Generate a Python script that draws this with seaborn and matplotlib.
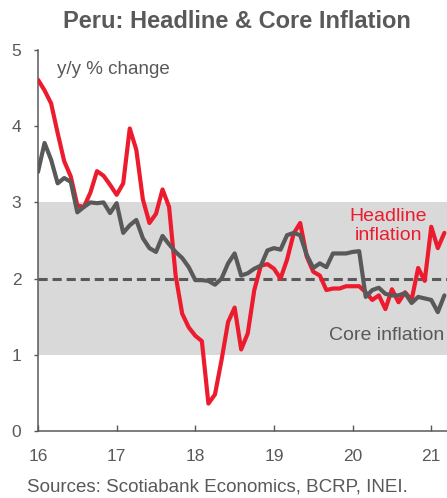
import matplotlib
matplotlib.use("Agg")
import matplotlib.pyplot as plt
import seaborn as sns
import numpy as np
import pandas as pd

# monthly y/y % change, Jan 2016 - Mar 2021
headline = [
    4.61, 4.47, 4.30, 3.91, 3.54, 3.34, 2.96, 2.94, 3.13, 3.41, 3.35, 3.23,
    3.10, 3.25, 3.97, 3.69, 3.04, 2.73, 2.85, 3.17, 2.94, 2.04, 1.54, 1.36,
    1.25, 1.18, 0.36, 0.48, 0.93, 1.43, 1.62, 1.07, 1.28, 1.85, 2.17, 2.19,
    2.13, 2.00, 2.25, 2.59, 2.73, 2.29, 2.09, 2.04, 1.85, 1.87, 1.87, 1.90,
    1.90, 1.90, 1.82, 1.72, 1.78, 1.60, 1.86, 1.69, 1.82, 1.72, 2.14, 1.97,
    2.68, 2.40, 2.60,
]
core = [
    3.40, 3.78, 3.56, 3.25, 3.32, 3.27, 2.87, 2.94, 3.00, 2.99, 3.00, 2.86,
    2.99, 2.60, 2.70, 2.77, 2.53, 2.40, 2.35, 2.56, 2.45, 2.35, 2.27, 2.15,
    1.98, 1.98, 1.97, 1.92, 2.00, 2.20, 2.33, 2.04, 2.07, 2.13, 2.17, 2.37,
    2.40, 2.38, 2.57, 2.60, 2.57, 2.31, 2.14, 2.20, 2.15, 2.33, 2.33, 2.33,
    2.35, 2.36, 1.76, 1.85, 1.88, 1.80, 1.78, 1.78, 1.81, 1.68, 1.76, 1.74,
    1.72, 1.56, 1.78,
]
year_ticks = [16, 17, 18, 19, 20, 21]
target_band = (1, 3)
target_mid = 2

RED = "#ec1c2e"
GREY = "#595959"

t = 16 + np.arange(len(headline)) / 12
df = pd.DataFrame({"t": t, "headline": headline, "core": core})

sns.set_style("white")
plt.rcParams["font.family"] = ["Liberation Sans", "DejaVu Sans"]

fig = plt.figure(figsize=(4.47, 4.98), dpi=100)
ax = fig.add_axes([0.085, 0.1345, 0.915, 0.7651])

ax.axhspan(*target_band, color="#d9d9d9", lw=0, zorder=0)
ax.axhline(target_mid, color=GREY, lw=2.2, ls=(0, (3, 1.6)), zorder=1)

sns.lineplot(data=df, x="t", y="headline", color=RED, lw=3, ax=ax, zorder=3)
sns.lineplot(data=df, x="t", y="core", color=GREY, lw=3, ax=ax, zorder=4)

ax.set_xlim(16, 21.2)
ax.set_ylim(0, 5)
ax.set_xticks(year_ticks)
ax.set_xticklabels([str(y) for y in year_ticks])
ax.set_yticks(range(6))
ax.set_xlabel("")
ax.set_ylabel("")

for s in ["top", "right"]:
    ax.spines[s].set_visible(False)
for s in ["left", "bottom"]:
    ax.spines[s].set_color(GREY)
    ax.spines[s].set_linewidth(1.1)

ax.tick_params(axis="x", direction="in", length=4, width=1, color=GREY,
               labelcolor=GREY, labelsize=12.5, pad=13, bottom=True)
ax.tick_params(axis="y", direction="out", length=3, width=1, color=GREY,
               labelcolor=GREY, labelsize=12.5, pad=9, left=True)

ax.text(16.24, 4.74, "y/y % change", color=GREY, fontsize=13.5, va="center")
ax.text(20.45, 2.69, "Headline\ninflation", color=RED, fontsize=14,
        ha="center", va="center", linespacing=1.12)
ax.text(20.434, 1.26, "Core inflation", color=GREY, fontsize=14,
        ha="center", va="center")

fig.text(0.53, 0.957, "Peru: Headline & Core Inflation", color=GREY,
         fontsize=17, fontweight="bold", ha="center", va="center")
fig.text(0.06, 0.022, "Sources: Scotiabank Economics, BCRP, INEI.", color=GREY,
         fontsize=13.5, ha="left", va="center")

fig.savefig("out.png", dpi=100)
